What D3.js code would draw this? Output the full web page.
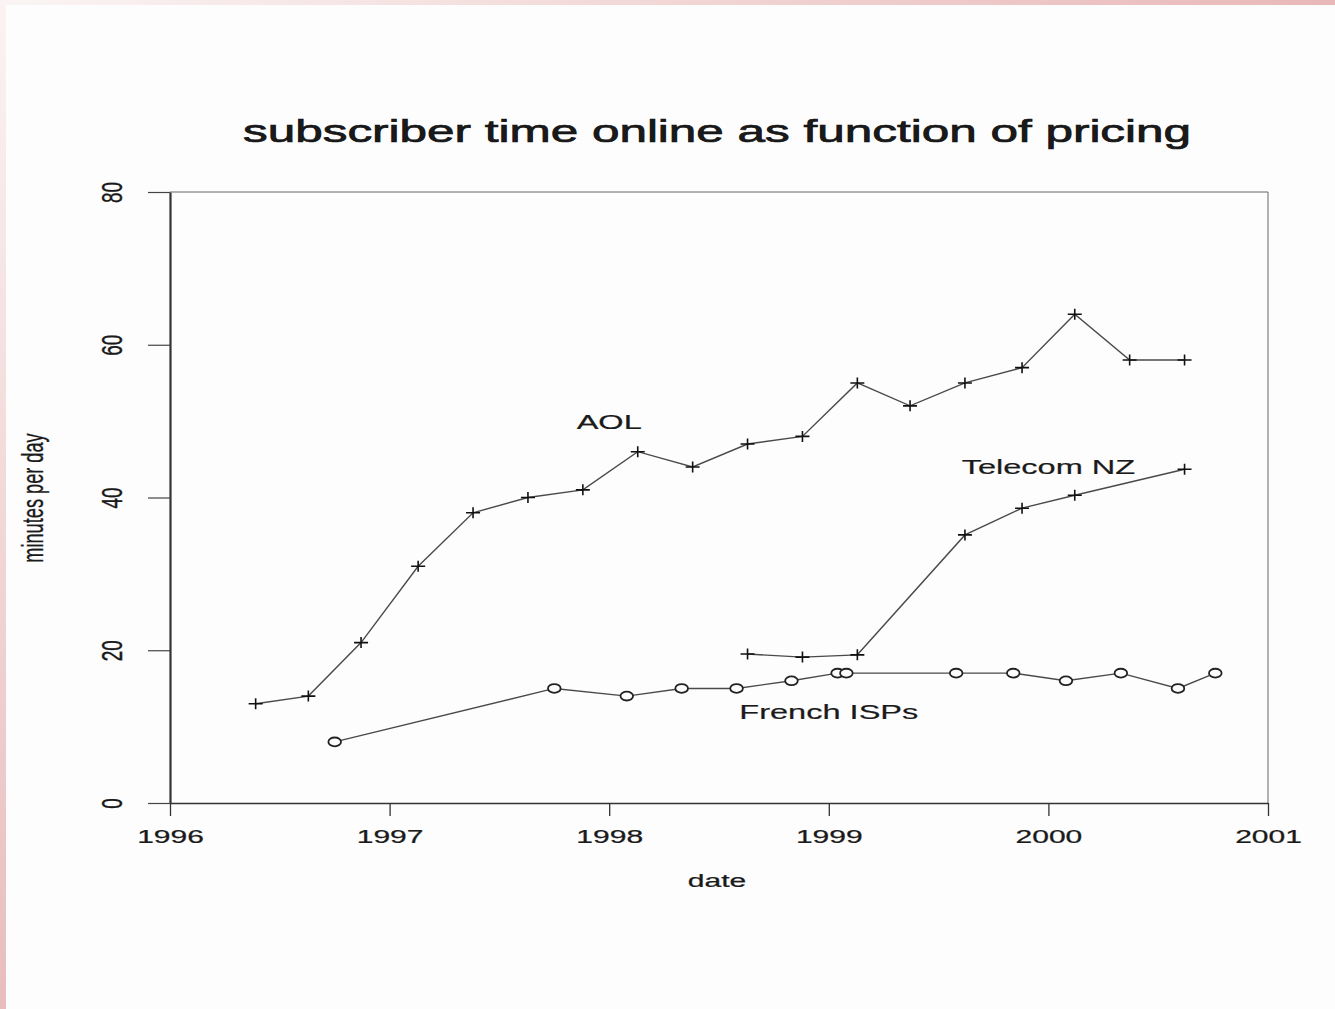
<!DOCTYPE html>
<html>
<head>
<meta charset="utf-8">
<script src="https://cdn.jsdelivr.net/npm/d3@7"></script>
<style>
  html, body { margin: 0; padding: 0; background: #fdfdfd; }
  svg { display: block; }
  text { font-family: "Liberation Sans", Arial, Helvetica, sans-serif; fill: #1a1a1a; }
</style>
</head>
<body>
<script>
// ---- data ----
const aolDates   = [1996.39, 1996.63, 1996.87, 1997.13, 1997.38, 1997.63, 1997.88, 1998.13, 1998.38, 1998.63, 1998.88, 1999.13, 1999.37, 1999.62, 1999.88, 2000.12, 2000.37, 2000.62];
const aolMinutes = [13, 14, 21, 31, 38, 40, 41, 46, 44, 47, 48, 55, 52, 55, 57, 64, 58, 58];

const nzDates   = [1998.63, 1998.88, 1999.13, 1999.62, 1999.88, 2000.12, 2000.62];
const nzMinutes = [19.5, 19.1, 19.4, 35.1, 38.6, 40.3, 43.7];

const frDates   = [1996.75, 1997.75, 1998.08, 1998.33, 1998.58, 1998.83, 1999.04, 1999.08, 1999.58, 1999.84, 2000.08, 2000.33, 2000.59, 2000.76];
const frMinutes = [8, 15, 14, 15, 15, 16, 17, 17, 17, 17, 16, 17, 15, 17];

const xTicks = [1996, 1997, 1998, 1999, 2000, 2001];
const yTicks = [0, 20, 40, 60, 80];

const seriesLabels = ["AOL", "Telecom NZ", "French ISPs"];
const labelDates   = [1998, 2000, 1999];
const labelMinutes = [50, 44, 12];

const titleText = "subscriber time online as function of pricing";
const xTitle = "date";
const yTitle = "minutes per day";

// ---- layout ----
const W = 1335, H = 1009;
const SX = 1.58; // horizontal text stretch of the reference
const plot = { left: 170, right: 1268, top: 192, bottom: 803 };

const svg = d3.select("body").append("svg").attr("width", W).attr("height", H);

const defs = svg.append("defs");
const gTop = defs.append("linearGradient").attr("id", "gTop").attr("x1", 0).attr("x2", 1).attr("y1", 0).attr("y2", 0);
gTop.append("stop").attr("offset", 0).attr("stop-color", "#faf5f4");
gTop.append("stop").attr("offset", 1).attr("stop-color", "#e9b8b8");
const gLeft = defs.append("linearGradient").attr("id", "gLeft").attr("x1", 0).attr("x2", 0).attr("y1", 0).attr("y2", 1);
gLeft.append("stop").attr("offset", 0).attr("stop-color", "#fbf3f3");
gLeft.append("stop").attr("offset", 1).attr("stop-color", "#e8bdbe");

svg.append("rect").attr("width", W).attr("height", H).attr("fill", "#fdfdfd");
svg.append("rect").attr("x", 0).attr("y", 0).attr("width", W).attr("height", 5).attr("fill", "url(#gTop)");
svg.append("rect").attr("x", 0).attr("y", 5).attr("width", 6).attr("height", H - 5).attr("fill", "url(#gLeft)");

const x = d3.scaleLinear().domain([1996, 2001]).range([plot.left, plot.right]);
const y = d3.scaleLinear().domain([0, 80]).range([plot.bottom, plot.top]);

// box
svg.append("line").attr("x1", plot.left).attr("x2", plot.right).attr("y1", plot.top).attr("y2", plot.top)
  .attr("stroke", "#666").attr("stroke-width", 1);
svg.append("line").attr("x1", plot.right).attr("x2", plot.right).attr("y1", plot.top).attr("y2", plot.bottom)
  .attr("stroke", "#666").attr("stroke-width", 1);

const fontStyle = "font-family:'Liberation Sans', Arial, sans-serif";

// x axis
const xAxis = d3.axisBottom(x).tickValues(xTicks).tickFormat(d3.format("d")).tickSize(13).tickSizeOuter(0);
const gx = svg.append("g").attr("transform", `translate(0,${plot.bottom})`).call(xAxis);
gx.select(".domain").attr("stroke", "#333").attr("stroke-width", 1.6);
gx.selectAll(".tick line").attr("stroke", "#333").attr("stroke-width", 1.3);
gx.selectAll(".tick text")
  .attr("x", 0).attr("y", 0).attr("dy", 0)
  .attr("font-size", 19)
  .attr("fill", "#1a1a1a")
  .attr("stroke", "#1a1a1a").attr("stroke-width", 0.25)
  .attr("transform", `translate(0,40) scale(${SX},1)`)
  .attr("style", fontStyle);

// y axis
const yAxis = d3.axisLeft(y).tickValues(yTicks).tickFormat(d3.format("d")).tickSize(22).tickSizeOuter(0);
const gy = svg.append("g").attr("transform", `translate(${plot.left},0)`).call(yAxis);
gy.select(".domain").attr("stroke", "#333").attr("stroke-width", 2.2);
gy.selectAll(".tick line").attr("stroke", "#444").attr("stroke-width", 1.2);
gy.selectAll(".tick text")
  .attr("x", 0).attr("dy", 0).attr("y", 0)
  .attr("text-anchor", "middle")
  .attr("font-size", 19)
  .attr("fill", "#1a1a1a")
  .attr("stroke", "#1a1a1a").attr("stroke-width", 0.25)
  .attr("transform", `translate(-48,0) scale(${SX},1) rotate(-90)`)
  .attr("style", fontStyle);
svg.selectAll(".domain").attr("fill", "none");

// titles
svg.append("text")
  .attr("transform", `translate(717,142) scale(${SX},1)`)
  .attr("text-anchor", "middle").attr("font-size", 31.3)
  .attr("stroke", "#111").attr("stroke-width", 0.7).attr("fill", "#111")
  .text(titleText);
svg.append("text")
  .attr("transform", `translate(717,887) scale(${SX},1)`)
  .attr("text-anchor", "middle").attr("font-size", 19)
  .attr("stroke", "#1a1a1a").attr("stroke-width", 0.25)
  .text(xTitle);
svg.append("text")
  .attr("transform", `translate(43,498) scale(${SX},1) rotate(-90)`)
  .attr("text-anchor", "middle").attr("font-size", 18.2)
  .attr("stroke", "#1a1a1a").attr("stroke-width", 0.2)
  .text(yTitle);

// lines & markers
const line = d3.line().x(d => x(d[0])).y(d => y(d[1]));
const lineColor = "#4a4a4a";

function drawSeries(dates, values, marker) {
  const pts = dates.map((d, i) => [d, values[i]]);
  svg.append("path").datum(pts).attr("d", line)
    .attr("fill", "none").attr("stroke", lineColor).attr("stroke-width", 1.4);
  const g = svg.append("g");
  if (marker === "plus") {
    g.selectAll("path").data(pts).enter().append("path")
      .attr("d", d => {
        const cx = x(d[0]), cy = y(d[1]);
        return `M${cx - 7},${cy}H${cx + 7}M${cx},${cy - 5.5}V${cy + 5.5}`;
      })
      .attr("stroke", "#111").attr("stroke-width", 1.6).attr("fill", "none");
  } else {
    g.selectAll("ellipse").data(pts).enter().append("ellipse")
      .attr("cx", d => x(d[0])).attr("cy", d => y(d[1]))
      .attr("rx", 6.3).attr("ry", 4.4)
      .attr("fill", "#fdfdfd").attr("stroke", "#222").attr("stroke-width", 1.8);
  }
}
drawSeries(aolDates, aolMinutes, "plus");
drawSeries(nzDates, nzMinutes, "plus");
drawSeries(frDates, frMinutes, "circle");

// series labels
seriesLabels.forEach((lab, i) => {
  svg.append("text")
    .attr("transform", `translate(${x(labelDates[i])},${y(labelMinutes[i])}) scale(${SX},1)`)
    .attr("text-anchor", "middle").attr("dy", "0.36em").attr("font-size", 20.6)
    .attr("stroke", "#1a1a1a").attr("stroke-width", 0.2)
    .text(lab);
});
</script>
</body>
</html>
